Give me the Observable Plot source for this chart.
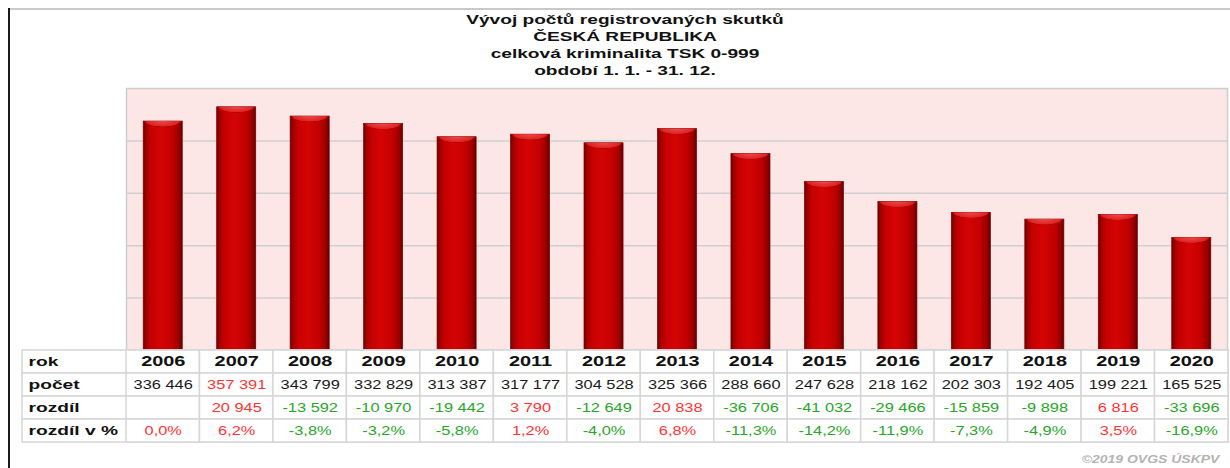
<!DOCTYPE html>
<html><head><meta charset="utf-8">
<script src="https://cdn.jsdelivr.net/npm/d3@7"></script>
<script src="https://cdn.jsdelivr.net/npm/@observablehq/plot@0.6"></script>
<style>
html,body{margin:0;padding:0;background:#fff;}
#wrap{position:relative;width:1230px;height:468px;overflow:hidden;font-family:"Liberation Sans",Arial,sans-serif;}
#topline{position:absolute;left:8px;top:8px;width:1222px;height:0;border-top:2px solid #c9c9c9;}
#leftline{position:absolute;left:8px;top:8px;width:0;height:460px;border-left:2px solid #1a1a1a;}
#title{position:absolute;left:325px;top:11px;width:600px;text-align:center;font-weight:bold;font-size:13px;line-height:17px;color:#111;}
#title div{transform:scaleX(1.47);}
#bars{position:absolute;left:0;top:87px;}
#table{position:absolute;left:0;top:349px;}
#caption{position:absolute;right:11px;top:453px;font-size:11px;font-weight:bold;font-style:italic;color:#b3b3b3;transform:scaleX(1.27);transform-origin:right center;white-space:nowrap;}
</style>
</head>
<body>
<svg width="0" height="0" style="position:absolute">
<defs>
<linearGradient id="barGrad" x1="0" x2="1" y1="0" y2="0">
 <stop offset="0" stop-color="#6e0000"/>
 <stop offset="0.07" stop-color="#a00000"/>
 <stop offset="0.2" stop-color="#c60000"/>
 <stop offset="0.45" stop-color="#d40404"/>
 <stop offset="0.75" stop-color="#c20000"/>
 <stop offset="0.92" stop-color="#960000"/>
 <stop offset="1" stop-color="#5e0000"/>
</linearGradient>
<radialGradient id="capGrad" cx="0.5" cy="0" r="0.5">
 <stop offset="0" stop-color="#ee4a4a"/>
 <stop offset="0.85" stop-color="#de2424"/>
 <stop offset="0.96" stop-color="#b00000"/>
 <stop offset="1" stop-color="#b00000" stop-opacity="0"/>
</radialGradient>
</defs></svg>
<div id="wrap">
  <div id="topline"></div>
  <div id="leftline"></div>
  <div id="title"></div>
  <div id="bars"></div>
  <div id="table"></div>
  <div id="caption"></div>
</div>
<script>
const titleLines = ["Vývoj počtů registrovaných skutků", "ČESKÁ REPUBLIKA", "celková kriminalita TSK 0-999", "období 1. 1. - 31. 12."];
const captionText = "©2019 OVGS ÚSKPV";
const years = [2006, 2007, 2008, 2009, 2010, 2011, 2012, 2013, 2014, 2015, 2016, 2017, 2018, 2019, 2020];
const counts = [336446, 357391, 343799, 332829, 313387, 317177, 304528, 325366, 288660, 247628, 218162, 202303, 192405, 199221, 165525];
const diffs = [null, 20945, -13592, -10970, -19442, 3790, -12649, 20838, -36706, -41032, -29466, -15859, -9898, 6816, -33696];
const pcts = [0.0, 6.2, -3.8, -3.2, -5.8, 1.2, -4.0, 6.8, -11.3, -14.2, -11.9, -7.3, -4.9, 3.5, -16.9];
const rowLabels = ["rok", "počet", "rozdíl", "rozdíl v %"];
const yDomain = [0, 385000];
const gridTicks = [77000, 154000, 231000, 308000];

const RED = "#ff3333", GREEN = "#2aa52a", BLACK = "#1a1a1a";
const fmtInt = v => (v < 0 ? "-" : "") + d3.format(",")(Math.abs(v)).replace(/,/g, " ");
const fmtPct = v => (v < 0 ? "-" : "") + Math.abs(v).toFixed(1).replace(".", ",") + "%";

document.getElementById("title").innerHTML = titleLines.map(t => `<div>${t}</div>`).join("");
document.getElementById("caption").textContent = captionText;

const table = years.map((y, i) => ({year: y, count: counts[i], diff: diffs[i], pct: pcts[i]}));
const maxCount = d3.max(counts);
const cells = [];
table.forEach(d => {
  cells.push({year: d.year, row: "počet", text: fmtInt(d.count), color: d.count === maxCount ? RED : BLACK});
  if (d.diff != null) cells.push({year: d.year, row: "rozdíl", text: fmtInt(d.diff), color: d.diff > 0 ? RED : GREEN});
  cells.push({year: d.year, row: "rozdíl v %", text: fmtPct(d.pct), color: d.pct >= 0 ? RED : GREEN});
});
const grid = [];
years.forEach(y => rowLabels.forEach(r => grid.push({year: y, row: r})));

const font = "'Liberation Sans', Arial, sans-serif";

const barPlot = Plot.plot({
  width: 1230, height: 264, marginLeft: 126, marginRight: 3, marginTop: 1, marginBottom: 1,
  x: {type: "band", domain: years, range: [126, 1228], padding: 0, round: false, axis: null},
  y: {domain: yDomain, axis: null},
  style: {overflow: "visible", background: "transparent", fontFamily: font},
  marks: [
    Plot.frame({fill: "#fde6e6", stroke: null}),
    Plot.ruleY(gridTicks, {stroke: "#cfcfcf", strokeWidth: 1.5}),
    Plot.barY(table, {x: "year", y: "count", fill: "url(#barGrad)", stroke: "#7a0000", strokeWidth: 0.7, insetLeft: 17.2, insetRight: 17.2}),
    Plot.barY(table, {x: "year", y1: "count", y2: "count", insetBottom: -12, insetLeft: 17.8, insetRight: 17.8, fill: "url(#capGrad)"}),
    Plot.frame({stroke: "#cdcdcd", strokeWidth: 1.5})
  ]
});
document.getElementById("bars").appendChild(barPlot);

const tablePlot = Plot.plot({
  width: 1230, height: 95, marginLeft: 22, marginRight: 2, marginTop: 1, marginBottom: 2,
  x: {type: "band", domain: years, range: [126, 1228], padding: 0, round: false, axis: null},
  y: {type: "band", domain: rowLabels, padding: 0, round: false, axis: null},
  color: {type: "identity"},
  style: {overflow: "visible", background: "transparent", fontFamily: font},
  marks: [
    Plot.cell(rowLabels, {y: d => d, fill: "white", stroke: "#d6d6d6", strokeWidth: 1.5}),
    Plot.cell(grid, {x: "year", y: "row", fill: "white", stroke: "#d6d6d6", strokeWidth: 1.5}),
    Plot.text(rowLabels, {y: d => d, text: d => d, frameAnchor: "left", textAnchor: "start", dx: 6, fontWeight: "bold", fontSize: 13.5, fill: "#111"}),
    Plot.text(years, {x: d => d, y: () => "rok", text: d => String(d), fontWeight: "bold", fontSize: 14, fill: "#111"}),
    Plot.text(cells, {x: "year", y: "row", text: "text", fill: "color", fontSize: 12.8})
  ]
});
document.getElementById("table").appendChild(tablePlot);

// widen glyphs to match the horizontally stretched reference
tablePlot.querySelectorAll("text").forEach(t => {
  const bold = t.closest('[font-weight="bold"]');
  const f = bold ? 1.42 : 1.28;
  const L = t.getComputedTextLength();
  t.setAttribute("textLength", (L * f).toFixed(2));
  t.setAttribute("lengthAdjust", "spacingAndGlyphs");
});
</script>
</body></html>
